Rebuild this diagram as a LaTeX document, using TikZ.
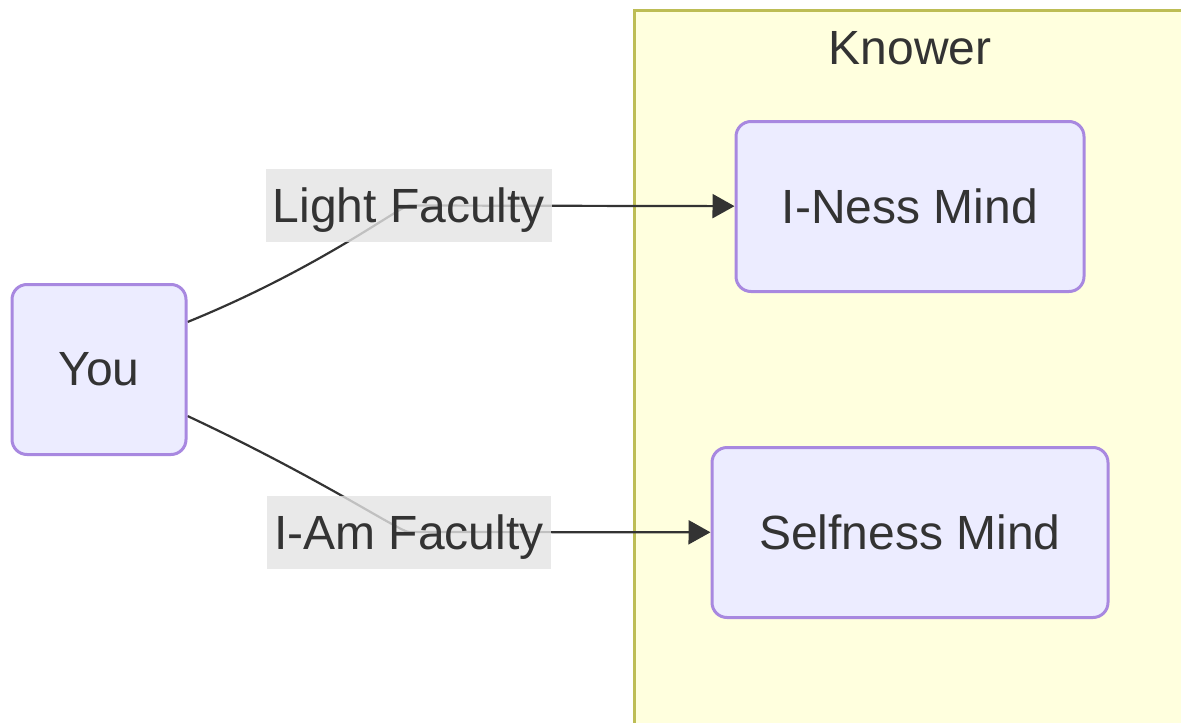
\documentclass[tikz,border=0pt]{standalone}
\usepackage{fontspec}
\setmainfont{Liberation Sans}
\usetikzlibrary{arrows.meta}
\definecolor{nodefill}{HTML}{ECECFF}
\definecolor{nodeline}{HTML}{A888E0}
\definecolor{clusterfill}{HTML}{FFFFDE}
\definecolor{clusterline}{HTML}{BDBD55}
\definecolor{labelgray}{HTML}{E4E4E4}
\definecolor{textgray}{HTML}{333333}
\pgfdeclarelayer{back}
\pgfdeclarelayer{edges}
\pgfsetlayers{back,edges,main}

\begin{document}
\begin{tikzpicture}[x=1pt,y=-1pt]
		\tikzstyle{mind}=[draw=nodeline, fill=nodefill, line width=3pt, rounded corners=15pt, minimum height=170pt, text=textgray, font=\fontsize{48}{58}\selectfont]
		\tikzstyle{faculty}=[fill=labelgray, fill opacity=0.8, text opacity=1, text=textgray, minimum height=73pt, text depth=0pt, inner xsep=7pt, font=\fontsize{48}{58}\selectfont]
		\tikzstyle{edge}=[draw=textgray, line width=2.2pt, -{Triangle[length=22pt,width=24pt]}]
		\useasboundingbox (0,0) rectangle (1181,723);
		\node[mind, minimum width=174pt] (you) at (99,369.5) {You};
		\node[mind, minimum width=348pt] (iness) at (910,206.5) {I-Ness Mind};
		\node[mind, minimum width=396pt] (selfness) at (910,532.5) {Selfness Mind};
		\node[faculty] (light) at (409,205.5) {Light Faculty};
		\node[faculty] (iam) at (409,532) {I-Am Faculty};
		\begin{pgfonlayer}{back}
			\draw[fill=clusterfill, draw=clusterline, line width=3pt] (634,10) rectangle (1200,740);
			\node[text=textgray, font=\fontsize{48}{58}\selectfont] (knower) at (910,48) {Knower};
		\end{pgfonlayer}
		\begin{pgfonlayer}{edges}
			\draw[edge] ([yshift=47.5pt]you.east) .. controls (320,268) and (400,206) .. (light.center) -- (iness);
			\draw[edge] ([yshift=-46.5pt]you.east) .. controls (320,478) and (400,532) .. (iam.center) -- (selfness);
		\end{pgfonlayer}
	\end{tikzpicture}
\end{document}
